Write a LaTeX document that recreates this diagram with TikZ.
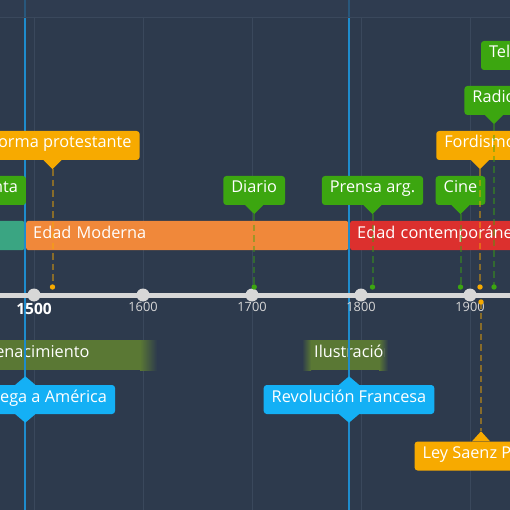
\documentclass[tikz,border=0pt]{standalone}
\usepackage{fontspec}
\setmainfont{Open Sans}
\usetikzlibrary{positioning}
\definecolor{bgpanel}{RGB}{45,58,77}
\definecolor{bgtop}{RGB}{47,60,80}
\definecolor{gridgray}{RGB}{58,72,92}
\definecolor{markblue}{RGB}{30,140,205}
\definecolor{evgreen}{RGB}{60,166,16}
\definecolor{evorange}{RGB}{247,170,0}
\definecolor{evblue}{RGB}{20,176,245}
\definecolor{eramedia}{RGB}{58,165,130}
\definecolor{eramoderna}{RGB}{240,136,58}
\definecolor{eracontemp}{RGB}{220,48,46}
\definecolor{periodolive}{RGB}{90,120,52}
\definecolor{axisgray}{RGB}{215,215,215}
\newcommand{\yr}[1]{(34+(#1-1500)*1.09)} % year -> x in px
\tikzset{
evbox/.style={rounded corners=3pt, text=white, inner xsep=8pt, inner ysep=0pt,
  minimum height=29pt, text height=9pt, text depth=4pt,
  font=\fontsize{16.3}{19}\selectfont}, % event labels
erabar/.style={rounded corners=2pt, text=white, inner xsep=7pt, inner ysep=0pt,
  minimum height=29pt, text height=9pt, text depth=4pt, align=left,
  font=\fontsize{16.3}{19}\selectfont}, % ages
period/.style={anchor=west, text=white, inner sep=0pt, text height=9pt, text depth=4pt,
  font=\fontsize{16.3}{19}\selectfont}, % periods
evline/.style={line width=2pt, dash pattern=on 6.5pt off 4pt, opacity=0.45}, % drop lines
gridline/.style={gridgray, line width=0.8pt},
}

\begin{document}
\begin{tikzpicture}[x=1pt,y=-1pt]
\useasboundingbox (0,0) rectangle (510,510);
\clip (0,0) rectangle (510,510);
\fill[bgpanel] (0,0) rectangle (510,510);
\fill[bgtop] (0,0) rectangle (510,17);
\draw[gridline] (0,17) -- (510,17);
\foreach \t in {1500,1600,...,1900}
  \draw[gridline] ({\yr{\t}},17) -- ({\yr{\t}},510);

% ages
\node[erabar, fill=eramedia, text width=300pt, anchor=east] (media) at (24.5,235.5) {Edad Media};
\node[erabar, fill=eramoderna, text width=308pt, anchor=west] (moderna) at (26,235.5) {Edad Moderna};
\node[erabar, fill=eracontemp, text width=340pt, anchor=west] (contemp) at (350,235.5) {Edad contemporánea};

% periods
\fill[periodolive] (-40,340) rectangle (140,370);
\shade[left color=periodolive, right color=bgpanel] (140,340) rectangle (157,370);
\node[period] (renac) at (-15,355) {Renacimiento};
\shade[left color=bgpanel, right color=periodolive] (302,340) rectangle (311,370);
\fill[periodolive] (311,340) rectangle (379,370);
\shade[left color=periodolive, right color=bgpanel] (379,340) rectangle (388,370);
\begin{scope}
\clip (302,340) rectangle (384.5,370);
\node[period] (ilus) at (314,355) {Ilustración};
\end{scope}

% milestones
\coordinate (colon-top) at ({\yr{1492}},0);
\coordinate (colon-end) at ({\yr{1492}},510);
\coordinate (revol-top) at ({\yr{1789}},0);
\coordinate (revol-end) at ({\yr{1789}},510);
\draw[markblue, line width=2.2pt, opacity=0.35] (colon-top) -- ++(0,17);
\draw[markblue, line width=2.2pt, opacity=0.35] (revol-top) -- ++(0,17);
\draw[markblue, line width=2.2pt] ([yshift=-18pt]colon-top) -- (colon-end);
\draw[markblue, line width=2.2pt] ([yshift=-18pt]revol-top) -- (revol-end);

% axis
\draw[axisgray, line width=5pt] (0,295) -- (510,295);
\foreach \t in {1500,1600,...,1900}
  \fill[axisgray] ({\yr{\t}},295) circle (6.5);
\node[text=white, font=\fontsize{15.5}{18}\bfseries] (y1500) at ({\yr{1500}},308.5) {1500};
\foreach \t in {1600,1700,1800,1900}
  \node[text=axisgray, font=\fontsize{12.8}{15}\selectfont] (y\t) at ({\yr{\t}},307) {\t};

% events above the axis
\foreach \n/\x/\y/\c/\t in {
  imprenta/-17/190.5/evgreen/Imprenta,
  reforma/52.5/145.5/evorange/Reforma protestante,
  diario/254.2/190.5/evgreen/Diario,
  prensa/372.5/190.5/evgreen/Prensa arg.,
  cine/460.5/190.5/evgreen/Cine,
  fordismo/480/145.5/evorange/Fordismo,
  radio/494/100.5/evgreen/Radio,
  tele/526/55.5/evgreen/Televisión}
{
  \node[evbox, fill=\c] (\n) at (\x,\y) {\t};
  \coordinate (\n-tip) at ([yshift=-9pt]\n.south);
  \coordinate (\n-dot) at (\x,287);
  \fill[\c] ([xshift=-9pt]\n.south) -- (\n-tip) -- ([xshift=9pt]\n.south) -- cycle;
  \draw[evline, \c] (\n-tip) -- (\n-dot);
  \fill[\c] (\n-dot) circle (2.7);
}

% event below the axis
\node[evbox, fill=evorange] (saenz) at (481,456) {Ley Saenz Peña};
\coordinate (saenz-tip) at ([yshift=10pt]saenz.north);
\coordinate (saenz-dot) at (481,302);
\fill[evorange] ([xshift=-9pt]saenz.north) -- (saenz-tip) -- ([xshift=9pt]saenz.north) -- cycle;
\draw[evline, evorange] (saenz-dot) -- (saenz-tip);
\fill[evorange] (saenz-dot) circle (2.7);

% milestone labels
\node[evbox, fill=evblue] (colon) at ({\yr{1492}},399.5) {Colón llega a América};
\node[evbox, fill=evblue] (revol) at ({\yr{1789}},399.5) {Revolución Francesa};
\foreach \n in {colon,revol}
{
  \fill[evblue] ([xshift=-10pt]\n.north) -- ([yshift=8.5pt]\n.north) -- ([xshift=10pt]\n.north) -- cycle;
  \fill[evblue] ([xshift=-10pt]\n.south) -- ([yshift=-8.5pt]\n.south) -- ([xshift=10pt]\n.south) -- cycle;
}
\end{tikzpicture}
\end{document}
